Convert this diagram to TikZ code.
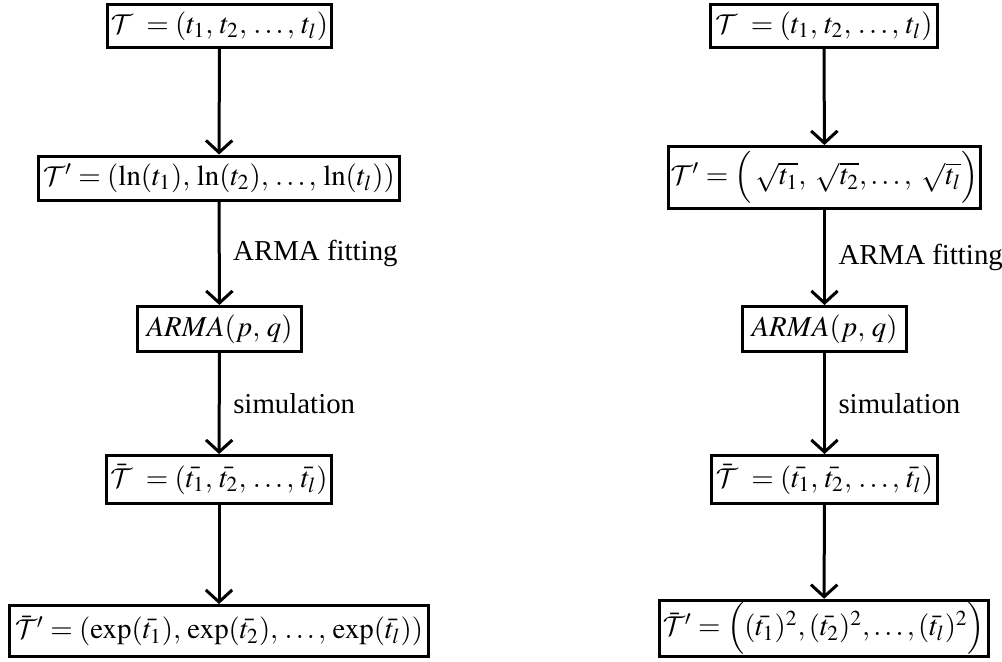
\documentclass[tikz,border=0pt]{standalone}
\IfFileExists{mathptmx.sty}{\usepackage{mathptmx}}{}
\usepackage[no-math]{fontspec}
\setmainfont{Liberation Serif}
\DeclareMathAlphabet{\mathcal}{OMS}{cmsy}{m}{n}
\newcommand{\cma}{,\,}
\usetikzlibrary{arrows.meta}
\begin{document}
\begin{tikzpicture}[x=0.44pt,y=-0.44pt,
  every node/.style={font=\fontsize{12.7}{15}\selectfont},
  box/.style={draw,line width=1.32pt,inner sep=1pt,align=center},
  conn/.style={line width=1.32pt,-{Straight Barb[length=5.3pt,width=11.6pt,line width=1.32pt]}},
  lbl/.style={anchor=west,inner sep=0pt}]
\useasboundingbox (0,0) rectangle (1002,661);
% left column
\node[box,minimum width=224*0.44pt,minimum height=43*0.44pt] (l1) at (219.5,26) {$\mathcal{T}\ = (t_1\cma t_2\cma \dots\cma t_l)$};
\node[box,minimum width=361*0.44pt,minimum height=44*0.44pt] (l2) at (219,178) {$\mathcal{T}' = (\ln(t_1)\cma \ln(t_2)\cma \dots\cma \ln(t_l))$};
\node[box,minimum width=164*0.44pt,minimum height=45*0.44pt] (l3) at (219.5,329) {$ARMA(p\cma q)$};
\node[box,minimum width=225*0.44pt,minimum height=48*0.44pt] (l4) at (219,479.5) {$\bar{\mathcal{T}}\ = (\bar{t_1}\cma \bar{t_2}\cma \dots\cma \bar{t_l})$};
\node[box,minimum width=419*0.44pt,minimum height=51*0.44pt] (l5) at (219,631) {$\bar{\mathcal{T}}' = (\exp(\bar{t_1})\cma \exp(\bar{t_2})\cma \dots\cma \exp(\bar{t_l}))$};
\draw[conn] (l1) -- (l2);
\draw[conn] (l2) -- node[lbl,right=5.5pt] {ARMA fitting} (l3);
\draw[conn] (l3) -- node[lbl,right=5.5pt] {simulation} (l4);
\draw[conn] (l4) -- (l5);
% right column
\node[box,minimum width=227*0.44pt,minimum height=43*0.44pt] (r1) at (824,26) {$\mathcal{T}\ = (t_1\cma t_2\cma \dots\cma t_l)$};
\node[box,minimum width=312*0.44pt,minimum height=62*0.44pt] (r2) at (824.5,177.5) {$\mathcal{T}' = \Big(\,\sqrt{t_1},\;\sqrt{t_2},\dots,\;\sqrt{t_l}\Big)$};
\node[box,minimum width=164*0.44pt,minimum height=45*0.44pt] (r3) at (824.5,329) {$ARMA(p\cma q)$};
\node[box,minimum width=226*0.44pt,minimum height=48*0.44pt] (r4) at (824.5,479.5) {$\bar{\mathcal{T}}\ = (\bar{t_1}\cma \bar{t_2}\cma \dots\cma \bar{t_l})$};
\node[box,minimum width=329*0.44pt,minimum height=56*0.44pt] (r5) at (824,628.5) {$\bar{\mathcal{T}}' = \Big((\bar{t_1})^2, (\bar{t_2})^2, \dots, (\bar{t_l})^2\Big)$};
\draw[conn] (r1) -- (r2);
\draw[conn] (r2) -- node[lbl,right=5.5pt] {ARMA fitting} (r3);
\draw[conn] (r3) -- node[lbl,right=5.5pt] {simulation} (r4);
\draw[conn] (r4) -- (r5);
\end{tikzpicture}
\end{document}
